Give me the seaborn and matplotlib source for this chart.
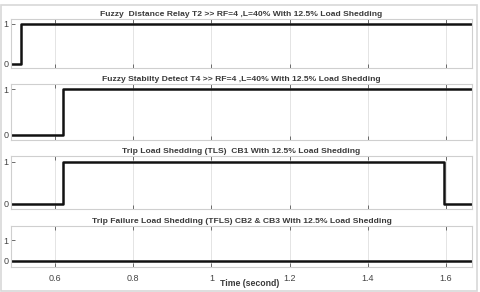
import matplotlib
matplotlib.use("Agg")
import matplotlib.pyplot as plt
import seaborn as sns
import pandas as pd
from matplotlib.patches import Rectangle

sns.set_theme(style="white")
plt.rcParams['font.family'] = ['Liberation Sans Narrow', 'Liberation Sans', 'DejaVu Sans']

titles = [
    "Fuzzy  Distance Relay T2 >> RF=4 ,L=40% With 12.5% Load Shedding",
    "Fuzzy Stabilty Detect T4 >> RF=4 ,L=40% With 12.5% Load Shedding",
    "Trip Load Shedding (TLS)  CB1 With 12.5% Load Shedding",
    "Trip Failure Load Shedding (TFLS) CB2 & CB3 With 12.5% Load Shedding",
]
t1 = [0.487, 0.512, 1.667]
v1 = [0, 1, 1]
t2 = [0.487, 0.621, 1.667]
v2 = [0, 1, 1]
t3 = [0.487, 0.621, 1.595, 1.667]
v3 = [0, 1, 0, 0]
t4 = [0.487, 1.667]
v4 = [0, 0]
series = [(t1, v1), (t2, v2), (t3, v3), (t4, v4)]
xticks = [0.6, 0.8, 1.0, 1.2, 1.4, 1.6]
xticklabels = ["0.6", "0.8", "1", "1.2", "1.4", "1.6"]
ylims = [(-0.1, 1.12), (-0.11, 1.11), (-0.12, 1.14), (-0.3, 1.7)]

W, H = 480, 292
fig = plt.figure(figsize=(W / 100, H / 100), dpi=100)
fig.patch.set_facecolor("white")

boxes = [(19, 68), (84, 140), (156, 209), (226, 267)]
left, right = 11, 472
for i, ((top, bot), (t, v)) in enumerate(zip(boxes, series)):
    ax = fig.add_axes([left / W, 1 - bot / H, (right - left) / W, (bot - top) / H])
    df = pd.DataFrame({"t": t, "v": v})
    sns.lineplot(data=df, x="t", y="v", ax=ax, drawstyle="steps-post",
                 color="#111111", linewidth=1.8)
    ax.set_xlim(0.487, 1.667)
    ax.set_ylim(*ylims[i])
    ax.set_xticks(xticks)
    ax.set_yticks([0, 1])
    ax.set_yticklabels(["0", "1"])
    if i == 3:
        ax.set_xticklabels(xticklabels)
    else:
        ax.set_xticklabels([])
    ax.set_xlabel("")
    ax.set_ylabel("")
    ax.grid(True, axis="x", color="#e4e4e4", linewidth=0.7)
    ax.tick_params(axis="both", which="both", length=3, width=0.6, color="#555555",
                   direction="in", labelsize=6.5, labelcolor="#444444",
                   top=True, bottom=True, left=True)
    ax.tick_params(axis="x", pad=5)
    ax.tick_params(axis="y", pad=2)
    for s in ax.spines.values():
        s.set_color("#cfcfcf")
        s.set_linewidth(0.8)
    ax.set_title(titles[i], fontsize=6.1, color="#3a3a3a", fontweight="bold", pad=2.5)

fig.text(250 / W, 1 - 284 / H, "Time (second)", fontsize=6.3, color="#3a3a3a",
         fontweight="bold", ha="center", va="center")
fig.patches.append(Rectangle((1 / W, 1 / H), 476 / W, 1 - 6 / H, transform=fig.transFigure,
                             fill=False, edgecolor="#d8d8d8", linewidth=1.2))
fig.savefig("out.png", dpi=100)
